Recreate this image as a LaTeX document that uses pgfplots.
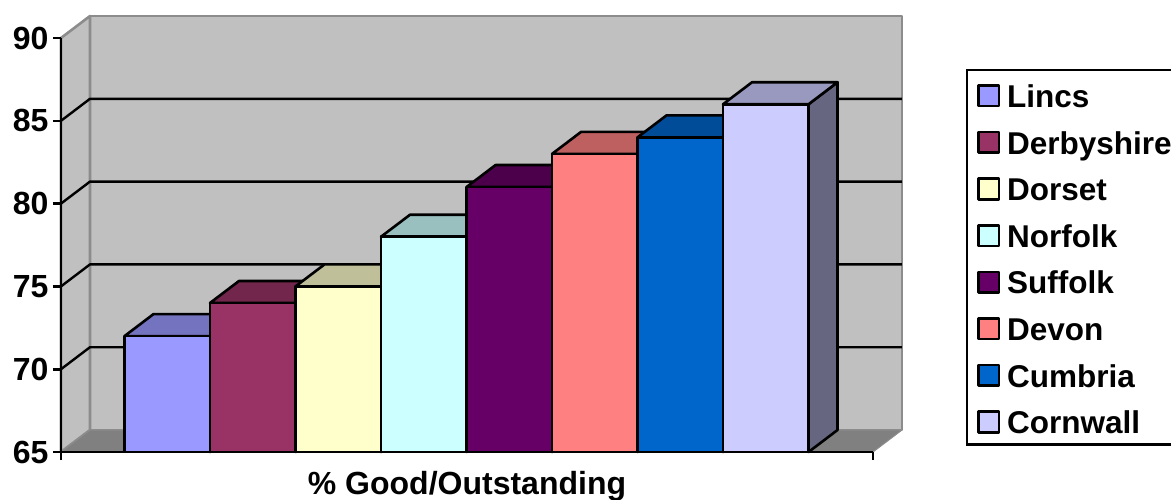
\documentclass[border=0pt]{standalone}
\usepackage{fontspec}
\setmainfont{Liberation Sans}
\usepackage{pgfplots}
\pgfplotsset{compat=1.18}
\definecolor{wall}{HTML}{C0C0C0}
\definecolor{floorgray}{HTML}{808080}
\definecolor{edgegray}{HTML}{8C8C8C}
\definecolor{barA}{HTML}{9999FF}
\definecolor{barB}{HTML}{993366}
\definecolor{barC}{HTML}{FFFFCC}
\definecolor{barD}{HTML}{CCFFFF}
\definecolor{barE}{HTML}{660066}
\definecolor{barF}{HTML}{FF8080}
\definecolor{barG}{HTML}{0066CC}
\definecolor{barH}{HTML}{CCCCFF}
\newcommand{\chartfont}{\fontsize{32}{36}\selectfont\bfseries}
\newcommand{\legendfont}{\fontsize{31.5}{36}\selectfont\bfseries}
% Depth of the 3D projection, in axis units
\newcommand{\depthx}{0.339}
\newcommand{\depthy}{1.328}
% A bar: side and top faces first (forget plot), then the front face with its legend entry
\newcommand{\drawbar}[4]{%
  \pgfmathsetmacro{\xl}{#1}%
  \pgfmathsetmacro{\xr}{#1+1}%
  \pgfmathsetmacro{\xlb}{#1+\depthx}%
  \pgfmathsetmacro{\xrb}{#1+1+\depthx}%
  \pgfmathsetmacro{\yb}{65+\depthy}%
  \pgfmathsetmacro{\yt}{#2+\depthy}%
  \addplot[forget plot,draw=black,line width=2.6pt,line join=round,fill=#3!50!black] coordinates {(\xr,65) (\xrb,\yb) (\xrb,\yt) (\xr,#2)} -- cycle;
  \addplot[forget plot,draw=black,line width=2.6pt,line join=round,fill=#3!75!black] coordinates {(\xl,#2) (\xlb,\yt) (\xrb,\yt) (\xr,#2)} -- cycle;
  \addplot[draw=black,line width=2.6pt,line join=round,fill=#3] coordinates {(\xl,65) (\xl,#2) (\xr,#2) (\xr,65)} -- cycle;
  \addlegendentry{#4}%
}
% A gridline running along the side wall and the back wall
\newcommand{\gridat}[2]{%
  \addplot[forget plot,black,line width=2.4pt,line join=round] coordinates {(-0.743,#1) (-0.404,#2) (9.093,#2)};
}
\begin{document}
\begin{tikzpicture}[x=1pt,y=1pt]
\useasboundingbox (0,0) rectangle (1171,499);
\begin{axis}[
  at={(61pt,47pt)}, anchor=south west,
  scale only axis, width=812pt, height=414pt,
  xmin=-0.743, xmax=8.754, ymin=65, ymax=90,
  clip=false, axis on top,
  axis x line*=bottom, axis y line*=left,
  axis line style={black,line width=2.6pt,-},
  xtick={-0.743,8.754}, xticklabels={},
  ytick={65,70,75,80,85,90},
  tick align=outside, major tick length=8pt,
  tick style={black,line width=2.6pt},
  /pgf/number format/assume math mode=true,
  yticklabel style={font=\chartfont,xshift=-1pt},
  xlabel={\% Good/Outstanding},
  xlabel style={font=\chartfont,at={(axis description cs:0.5,0)},anchor=base,yshift=-42.5pt},
  legend image code/.code={\draw[#1] (0pt,-12pt) rectangle (20.5pt,8.5pt);},
  legend style={at={(1.1158,0.9227)},anchor=north west,draw=black,line width=2.6pt,
    font=\legendfont,inner xsep=10pt,inner ysep=7.5pt,row sep=13.6pt,column sep=7pt,
    nodes={inner sep=0pt,text height=30pt,text depth=3pt},
    outer sep=0pt},
  legend cell align=left,
]
% Walls and floor of the chart box
\addplot[forget plot,draw=edgegray,line width=2.6pt,line join=round,fill=wall] coordinates {(-0.404,66.328) (-0.404,91.328) (9.093,91.328) (9.093,66.328)} -- cycle;
\addplot[forget plot,draw=edgegray,line width=2.6pt,line join=round,fill=wall] coordinates {(-0.743,65) (-0.404,66.328) (-0.404,91.328) (-0.743,90)} -- cycle;
\addplot[forget plot,draw=edgegray,line width=1pt,line join=round,fill=floorgray] coordinates {(-0.743,65) (8.754,65) (9.093,66.328) (-0.404,66.328)} -- cycle;
\gridat{70}{71.328}
\gridat{75}{76.328}
\gridat{80}{81.328}
\gridat{85}{86.328}
% The bars, left to right
\drawbar{0}{72}{barA}{Lincs}
\drawbar{1}{74}{barB}{Derbyshire}
\drawbar{2}{75}{barC}{Dorset}
\drawbar{3}{78}{barD}{Norfolk}
\drawbar{4}{81}{barE}{Suffolk}
\drawbar{5}{83}{barF}{Devon}
\drawbar{6}{84}{barG}{Cumbria}
\drawbar{7}{86}{barH}{Cornwall}
\end{axis}
\end{tikzpicture}
\end{document}
